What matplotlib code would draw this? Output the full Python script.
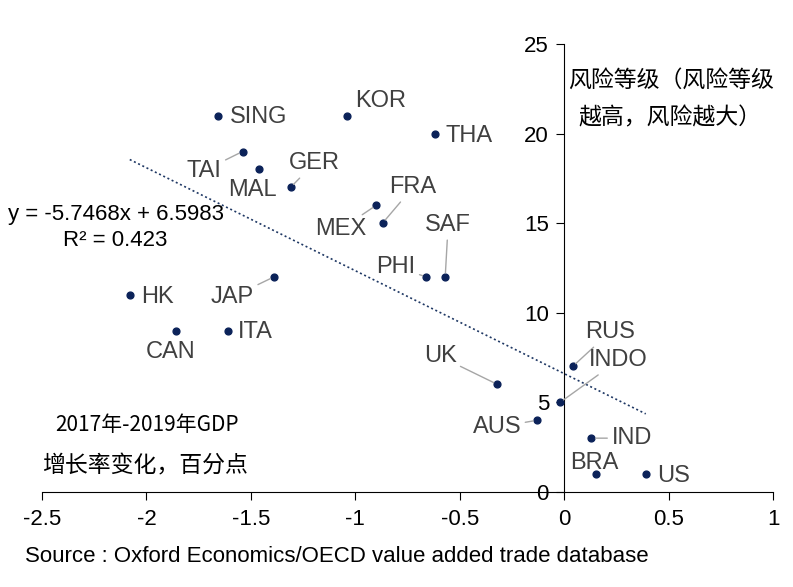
import numpy as np
import matplotlib
matplotlib.use('Agg')
import matplotlib.pyplot as plt

plt.rcParams['font.family'] = ['Liberation Sans', 'Noto Sans CJK SC', 'DejaVu Sans']

# data: GDP growth change (x) vs risk level (y)
countries = ['SING', 'KOR', 'THA', 'TAI', 'MAL', 'GER', 'FRA', 'MEX', 'SAF', 'PHI', 'JAP',
             'HK', 'CAN', 'ITA', 'UK', 'RUS', 'INDO', 'AUS', 'IND', 'BRA', 'US']
gdp_change = [-1.66, -1.04, -0.62, -1.54, -1.46, -1.31, -0.87, -0.90, -0.57, -0.66, -1.39,
              -2.08, -1.86, -1.61, -0.32, 0.04, -0.02, -0.13, 0.13, 0.15, 0.39]
risk_level = [21, 21, 20, 19, 18, 17, 15, 16, 12, 12, 12,
              11, 9, 9, 6, 7, 5, 4, 3, 1, 1]
x_ticks = [-2.5, -2, -1.5, -1, -0.5, 0, 0.5, 1]
x_tick_labels = ['-2.5', '-2', '-1.5', '-1', '-0.5', '0', '0.5', '1']
y_ticks = [0, 5, 10, 15, 20, 25]
slope, intercept, r2 = -5.7468, 6.5983, 0.423

# label placement: offset in pixels, alignment, leader line
label_layout = {
    'SING': (12, -1, 'left', False), 'KOR': (8, 15, 'left', False),
    'THA': (11, -2, 'left', False), 'TAI': (-21, -19, 'right', True),
    'MAL': (-7, -21, 'center', False), 'GER': (-2, 24, 'left', True),
    'FRA': (7, 36, 'left', True), 'MEX': (-10, -24, 'right', True),
    'SAF': (-20, 52, 'left', True), 'PHI': (-11, 10, 'right', True),
    'JAP': (-20, -20, 'right', True), 'HK': (11, -2, 'left', False),
    'CAN': (-30, -21, 'left', False), 'ITA': (10, -1, 'left', False),
    'UK': (-41, 28, 'right', True), 'RUS': (12, 34, 'left', True),
    'INDO': (29, 42, 'left', True), 'AUS': (-16, -7, 'right', True),
    'IND': (20, 0, 'left', True), 'BRA': (-25, 11, 'left', False),
    'US': (11, -2, 'left', False),
}

fig = plt.figure(figsize=(7.93, 5.87), dpi=100)
ax = fig.add_axes([0.053, 0.162, 0.922, 0.763])

ax.scatter(gdp_change, risk_level, s=24, color='#0b2259', zorder=3)

# trend line across the data range
xs = np.array([min(gdp_change), max(gdp_change)])
ax.plot(xs, slope * xs + intercept, linestyle=(0, (1.2, 1.6)), color='#1f3864', lw=1.2, zorder=2)

for name, x, y in zip(countries, gdp_change, risk_level):
    dx, dy, ha, leader = label_layout[name]
    arrow = None
    if leader:
        arrow = dict(arrowstyle='-', color='#a6a6a6', lw=1, shrinkA=1, shrinkB=3)
    ax.annotate(name, (x, y), xytext=(dx, dy), textcoords='offset pixels',
                ha=ha, va='center', fontsize=17, color='#404040', arrowprops=arrow, zorder=4)

ax.set_xlim(-2.5, 1)
ax.set_ylim(0, 25)
ax.spines['left'].set_position(('data', 0))
ax.spines['bottom'].set_position(('data', 0))
ax.spines['top'].set_visible(False)
ax.spines['right'].set_visible(False)
ax.set_xticks(x_ticks)
ax.set_xticklabels(x_tick_labels)
ax.set_yticks(y_ticks)
ax.tick_params(axis='both', labelsize=16, length=6, direction='out', colors='black')
ax.tick_params(axis='x', pad=6)
ax.tick_params(axis='y', pad=5)

fig.text(8 / 793, 1 - 214 / 587, f'y = {slope}x + {intercept}', fontsize=16, va='center', ha='left')
fig.text(115 / 793, 1 - 240 / 587, f'R² = {r2}', fontsize=16, va='center', ha='center')

cjk = ['Noto Sans CJK SC', 'DejaVu Sans']
fig.text(568 / 793, 1 - 80 / 587, '风险等级（风险等级', fontsize=16.5, family=cjk, va='center')
fig.text(578 / 793, 1 - 118 / 587, '越高，风险越大）', fontsize=16.5, family=cjk, va='center')
fig.text(55 / 793, 1 - 425 / 587, '2017年-2019年GDP', fontsize=15, family=cjk, va='center')
fig.text(42 / 793, 1 - 466 / 587, '增长率变化，百分点', fontsize=16.5, family=cjk, va='center')

fig.text(25 / 793, 1 - 557 / 587, 'Source : Oxford Economics/OECD value added trade database',
         fontsize=16, va='center', ha='left')

fig.savefig('out.png', dpi=100)
plt.close(fig)
